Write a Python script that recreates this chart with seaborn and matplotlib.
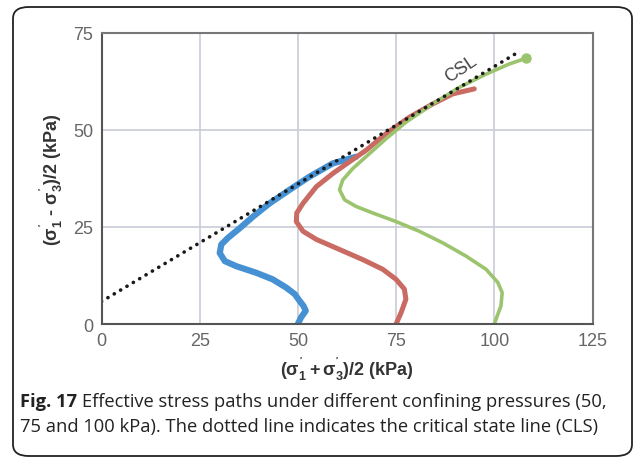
import matplotlib
matplotlib.use("Agg")
import matplotlib.pyplot as plt
import seaborn as sns
import pandas as pd
from matplotlib.patches import FancyBboxPatch

# ---- data ----
blue_x = [50.0, 50.8, 52.0, 51.4, 50.4, 49.2, 47.0, 43.6, 39.4, 34.3, 31.4, 30.1, 30.5, 32.2, 35.2, 38.6, 42.8, 47.9, 53.0, 58.9, 64.8]
blue_y = [0.0, 1.7, 3.4, 4.7, 6.0, 7.7, 9.4, 11.5, 13.2, 14.9, 16.2, 18.3, 20.5, 22.2, 24.7, 27.7, 31.1, 34.6, 38.0, 41.4, 43.1]

red_x = [75.0, 76.3, 77.5, 77.1, 75.0, 71.6, 66.5, 60.6, 54.7, 51.3, 49.6, 49.7, 51.3, 54.7, 58.9, 63.1, 67.4, 72.5, 78.4, 84.3, 89.4, 94.9]
red_y = [0.0, 3.0, 6.4, 9.0, 11.5, 14.1, 16.6, 19.2, 21.8, 23.9, 26.4, 28.6, 31.1, 35.4, 38.8, 41.8, 44.8, 49.1, 53.3, 56.7, 59.3, 60.6]

green_x = [100.0, 101.7, 102.0, 100.9, 97.9, 92.8, 86.9, 80.9, 75.0, 69.1, 64.8, 61.9, 60.6, 61.4, 64.0, 68.2, 72.5, 77.5, 84.3, 91.1, 97.9, 103.8, 108.1]
green_y = [0.0, 4.7, 8.1, 10.7, 14.1, 17.5, 20.9, 23.9, 26.4, 28.6, 30.3, 32.0, 34.6, 37.1, 40.1, 43.9, 47.8, 52.0, 56.7, 61.0, 64.4, 67.0, 68.5]

csl_x = [0.0, 106.0]
csl_y = [5.8, 70.0]

x_ticks = [0, 25, 50, 75, 100, 125]
y_ticks = [0, 25, 50, 75]

sns.set_theme(style="whitegrid")
plt.rcParams['font.family'] = ['Liberation Sans', 'DejaVu Sans']
plt.rcParams['mathtext.fontset'] = 'custom'
plt.rcParams['mathtext.rm'] = 'Liberation Sans:bold'
plt.rcParams['mathtext.it'] = 'Liberation Sans:bold'
plt.rcParams['mathtext.bf'] = 'Liberation Sans:bold'

fig = plt.figure(figsize=(6.34, 4.6), dpi=100)
W, H = 634, 460
ax = fig.add_axes([101.5 / W, 1 - 325 / H, 491 / W, 291 / H])

# border box
box = FancyBboxPatch((13 / W, 1 - 457 / H), (632 - 13) / W, (457 - 8) / H,
                     boxstyle="round,pad=0,rounding_size=0.025",
                     transform=fig.transFigure, fill=False,
                     edgecolor="#222222", linewidth=1.3, zorder=0)
fig.patches.append(box)

def df(x, y):
    return pd.DataFrame({"x": x, "y": y})

sns.lineplot(data=df(blue_x, blue_y), x="x", y="y", sort=False, estimator=None,
             color="#4691d3", linewidth=4.5, ax=ax, solid_joinstyle="round",
             solid_capstyle="round")
sns.lineplot(data=df(red_x, red_y), x="x", y="y", sort=False, estimator=None,
             color="#c96a63", linewidth=3.6, ax=ax, solid_joinstyle="round",
             solid_capstyle="round")
sns.lineplot(data=df(green_x, green_y), x="x", y="y", sort=False, estimator=None,
             color="#9cc46e", linewidth=2.6, ax=ax, solid_joinstyle="round",
             solid_capstyle="round")
ax.plot(green_x[-1:], green_y[-1:], 'o', color="#9cc46e", markersize=6.5)
sns.lineplot(x=csl_x, y=csl_y, color="#1a1a1a", linewidth=2.6, ax=ax,
             linestyle=(0, (0.05, 2.0)), dash_capstyle="round")

ax.text(91.5, 65.8, "CSL", rotation=34, ha="center", va="center",
        fontsize=13, color="#444444")

ax.set_xlim(0, 125)
ax.set_ylim(0, 75)
ax.set_xticks(x_ticks)
ax.set_yticks(y_ticks)
ax.tick_params(axis='both', labelsize=13, labelcolor="#666666", length=0, pad=6)
ax.grid(True, color="#c8ccd6", linewidth=1.2)
for s in ax.spines.values():
    s.set_visible(True)
    s.set_color("#777777")
    s.set_linewidth(1.5)
ax.spines['left'].set_color("#555555")
ax.spines['bottom'].set_color("#555555")
ax.set_facecolor("white")

ax.set_xlabel(r"$(\sigma_1^{'} + \sigma_3^{'})/2$ (kPa)", fontsize=13,
              fontweight="bold", color="#333333", labelpad=4)
ax.set_ylabel(r"$(\sigma_1^{'}$ - $\sigma_3^{'})/2$ (kPa)", fontsize=13,
              fontweight="bold", color="#333333", labelpad=6)

# caption
cap_font = ['Open Sans', 'DejaVu Sans']
cap_size = 13.2
t1 = fig.text(20 / W, 1 - 402 / H, "Fig. 17", fontsize=cap_size, fontweight="bold",
              family=cap_font, color="#222222", va="center", ha="left")
fig.canvas.draw()
bb = t1.get_window_extent()
fig.text((bb.x1 + 5) / W, 1 - 402 / H,
         "Effective stress paths under different confining pressures (50,",
         fontsize=cap_size, family=cap_font, color="#222222", va="center", ha="left")
fig.text(20 / W, 1 - 427 / H,
         "75 and 100 kPa). The dotted line indicates the critical state line (CLS)",
         fontsize=cap_size, family=cap_font, color="#222222", va="center", ha="left")

fig.savefig("out.png", dpi=100, facecolor="white")
